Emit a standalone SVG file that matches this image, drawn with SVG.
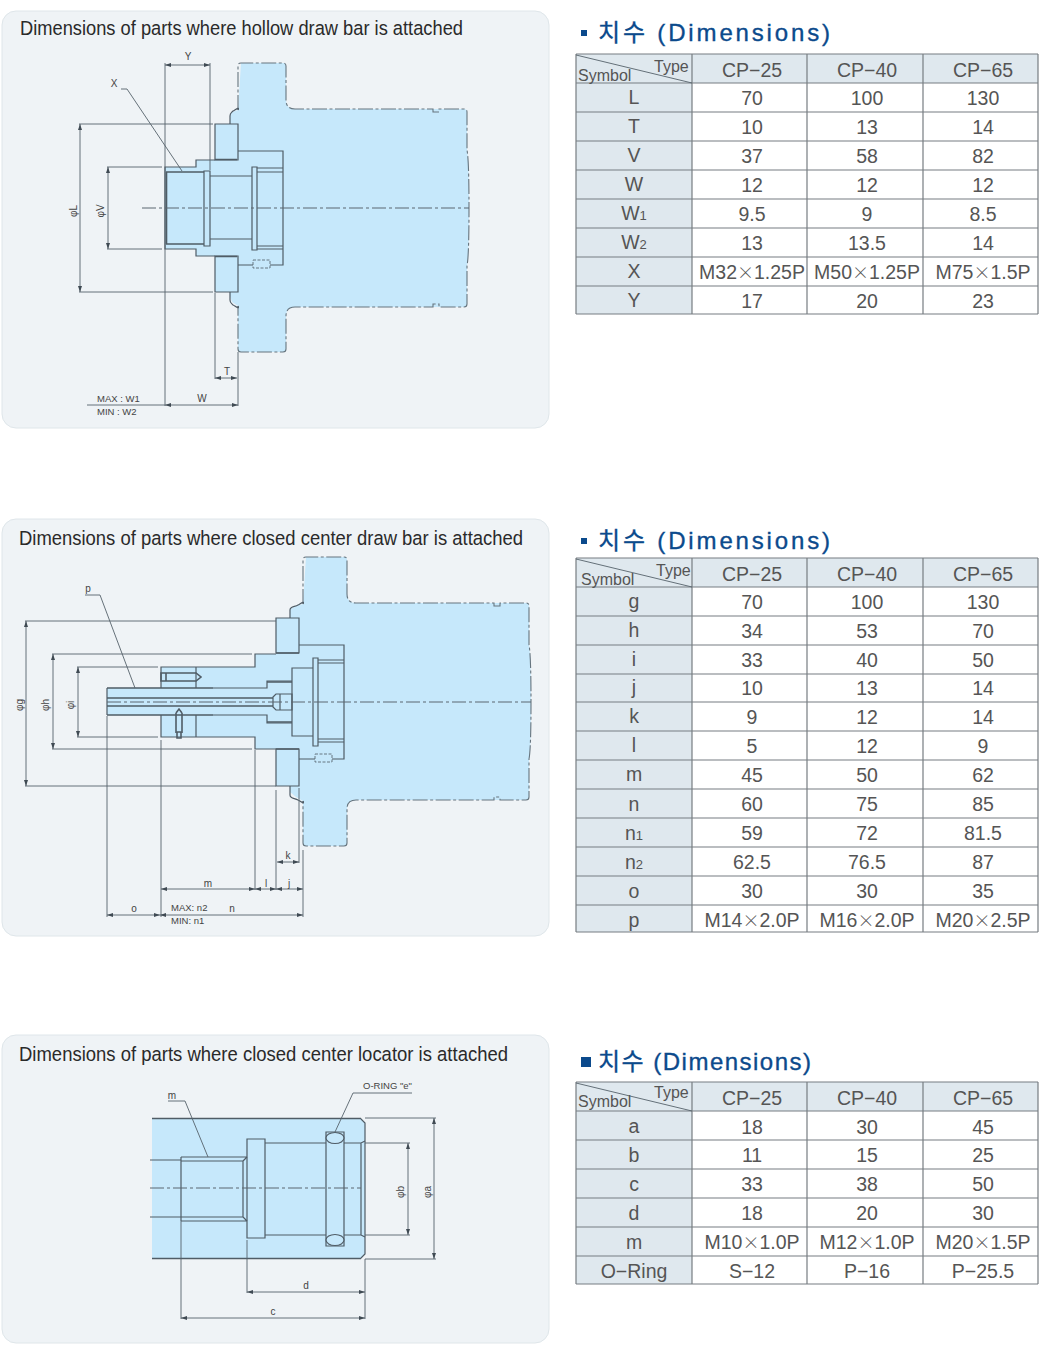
<svg xmlns="http://www.w3.org/2000/svg" width="1040" height="1357" viewBox="0 0 1040 1357">
<style>
text{font-family:"Liberation Sans",Arial,sans-serif;fill:#333}
.panel{fill:#eff3f6;stroke:#dfe6ea;stroke-width:1}
.ph{font-size:20.500px;fill:#2a2a2a}
.ttl{font-family:"Liberation Sans","Noto Sans CJK KR",sans-serif;font-size:24px;fill:#0b4a8c;stroke:#0b4a8c;stroke-width:.35}
.body{fill:#c6e8fb;stroke:none}
.cut{fill:none;stroke:#66757f;stroke-width:1.1;stroke-dasharray:15 2.5 3 2.5}
.solid{fill:none;stroke:#4f5c66;stroke-width:1.2}
.hv{fill:none;stroke:#4f5c66;stroke-width:1.6}
.thin{fill:none;stroke:#56626b;stroke-width:.9}
.dim{fill:none;stroke:#56626b;stroke-width:.9;marker-start:url(#ar);marker-end:url(#ar)}
.cl{fill:none;stroke:#5a6670;stroke-width:1;stroke-dasharray:14 3 3 3}
.dsh{fill:#c6e8fb;stroke:#4f5c66;stroke-width:.8;stroke-dasharray:3 1.5}
.lb{font-size:10px;fill:#444;text-anchor:middle}
.ls{font-size:9.500px;fill:#444}
.hf{fill:#dfe8ee;stroke:none}
.cf{fill:#fff;stroke:none}
.g{fill:none;stroke:#777d82;stroke-width:1.2}
.c{font-size:19.500px;text-anchor:middle;fill:#555}
.sb{font-size:13px}
.x{font-family:"Noto Sans CJK KR","Liberation Sans",sans-serif;font-size:17px;font-weight:300}
.hd{font-size:16px;fill:#555}
</style>
<defs>
<marker id="ar" viewBox="0 0 6 4" refX="6" refY="2" markerWidth="6" markerHeight="4" markerUnits="userSpaceOnUse" orient="auto-start-reverse"><path d="M0 0L6 2L0 4z" fill="#3f4a53"/></marker>
</defs>
<rect width="1040" height="1357" fill="#fff"/>

<g id="panel-1">
<rect class="panel" x="2" y="11" width="547" height="417" rx="14"/>
<text class="ph" x="20" y="35" textLength="443" lengthAdjust="spacingAndGlyphs">Dimensions of parts where hollow draw bar is attached</text>
</g>
<g id="drawing-1">
<path class="body" d="M241 63H283Q286 63 286 66V100Q286 109 295 109H464Q467 109 467 112V150Q469 160 469 208Q469 256 467 266V304Q467 307 464 307H295Q286 307 286 316V349Q286 352 283 352H241Q238 352 238 349V306L232 302L230 296V292H215V256H196V249H165V167H196V160H215V124H230V115L232 112L238 110Z"/>
<path class="cut" d="M238 110V66Q238 63 241 63H283Q286 63 286 66V100Q286 109 295 109H433V112H439V109H464Q467 109 467 112V150Q469 160 469 208Q469 256 467 266V304Q467 307 464 307H439V304H433V307H295Q286 307 286 316V349Q286 352 283 352H241Q238 352 238 349V306"/>
<path class="solid" d="M238 110C240 106 235 110 233 111C231 113 230 113 230 116V124M238 306C240 310 235 306 233 305C231 303 230 303 230 300V292"/>
<path class="solid" d="M215 124H238V160H215ZM215 256H238V292H215Z"/>
<path class="hv" d="M215 159.500H237M215 256.500H237"/>
<path class="solid" d="M238 151H283V265H238M215 160H196V167H165V249H196V256H215M204 171H210V246H204ZM252 167H257V250H252ZM210 176H252M210 239H252M257 168H283M257 172H283M257 246H283M257 249H283"/>
<path class="hv" d="M166.500 172V244M166 172H204M166 244H204"/>
<rect class="dsh" x="253" y="260" width="17" height="8"/>
<path class="cl" d="M142 208H469"/>
</g>
<g id="dimensions-1">
<path class="thin" d="M165 63V406M210 63V170M79 124H213M79 292H213M107 167H162M107 249H162M215 293V379M238 352V406M87 405H165M121 89H127L182 171"/>
<path class="dim" d="M165 65H210"/><path class="dim" d="M80 124V292"/><path class="dim" d="M108 167V249"/><path class="dim" d="M215 378H237"/><path class="dim" d="M165 405H238"/>
<text class="lb" x="188" y="60">Y</text>
<text class="lb" x="114" y="87">X</text>
<text class="lb" transform="translate(77 211) rotate(-90)">φL</text>
<text class="lb" transform="translate(104 211) rotate(-90)">φV</text>
<text class="lb" x="227" y="375">T</text>
<text class="lb" x="202" y="402">W</text>
<text class="ls" x="97" y="402">MAX : W1</text>
<text class="ls" x="97" y="415">MIN : W2</text>
</g>

<g id="table-1">
<rect x="581" y="30" width="6" height="6" fill="#0b4a8c"/>
<text class="ttl" x="598" y="41" textLength="232">치수 (Dimensions)</text>
<rect class="hf" x="576" y="54" width="462" height="29"/>
<rect class="hf" x="576" y="83" width="116" height="231"/>
<rect class="cf" x="692" y="83" width="346" height="231"/>
<path class="g" d="M576 54H1038M576 83H1038M576 112H1038M576 141H1038M576 170H1038M576 199H1038M576 228H1038M576 257H1038M576 286H1038M576 314H1038M576 54V314M692 54V314M807 54V314M923 54V314M1038 54V314"/>
<path class="thin" d="M576 55L692 83"/>
<text class="hd" x="654" y="72">Type</text>
<text class="hd" x="578" y="81">Symbol</text>
<text class="c" x="752" y="77">CP−25</text><text class="c" x="867" y="77">CP−40</text><text class="c" x="983" y="77">CP−65</text>
<text class="c" x="634" y="104">L</text><text class="c" x="752" y="105">70</text><text class="c" x="867" y="105">100</text><text class="c" x="983" y="105">130</text>
<text class="c" x="634" y="133">T</text><text class="c" x="752" y="134">10</text><text class="c" x="867" y="134">13</text><text class="c" x="983" y="134">14</text>
<text class="c" x="634" y="162">V</text><text class="c" x="752" y="163">37</text><text class="c" x="867" y="163">58</text><text class="c" x="983" y="163">82</text>
<text class="c" x="634" y="191">W</text><text class="c" x="752" y="192">12</text><text class="c" x="867" y="192">12</text><text class="c" x="983" y="192">12</text>
<text class="c" x="634" y="220">W<tspan class="sb">1</tspan></text><text class="c" x="752" y="221">9.5</text><text class="c" x="867" y="221">9</text><text class="c" x="983" y="221">8.5</text>
<text class="c" x="634" y="249">W<tspan class="sb">2</tspan></text><text class="c" x="752" y="250">13</text><text class="c" x="867" y="250">13.5</text><text class="c" x="983" y="250">14</text>
<text class="c" x="634" y="278">X</text><text class="c" x="752" y="279">M32<tspan class="x">×</tspan>1.25P</text><text class="c" x="867" y="279">M50<tspan class="x">×</tspan>1.25P</text><text class="c" x="983" y="279">M75<tspan class="x">×</tspan>1.5P</text>
<text class="c" x="634" y="307">Y</text><text class="c" x="752" y="308">17</text><text class="c" x="867" y="308">20</text><text class="c" x="983" y="308">23</text>
</g>

<g id="panel-2">
<rect class="panel" x="2" y="519" width="547" height="417" rx="14"/>
<text class="ph" x="19" y="545" textLength="504" lengthAdjust="spacingAndGlyphs">Dimensions of parts where closed center draw bar is attached</text>
</g>
<g id="drawing-2">
<path class="body" d="M306 557H344Q347 557 347 560V594Q347 603 356 603H526Q529 603 529 606V645Q531 655 531 702Q531 749 529 759V797Q529 800 526 800H356Q347 800 347 809V843Q347 846 344 846H306Q303 846 303 843V801L296 797L290 792V786H276V749H255V737H161V715H107V688H161V667H255V654H276V618H290V609L296 606L303 604Z"/>
<path class="cut" d="M303 604V560Q303 557 306 557H344Q347 557 347 560V594Q347 603 356 603H494V606H500V603H526Q529 603 529 606V645Q531 655 531 702Q531 749 529 759V797Q529 800 526 800H500V797H494V800H356Q347 800 347 809V843Q347 846 344 846H306Q303 846 303 843V801"/>
<path class="solid" d="M303 604C305 600 300 604 298 605C295 607 290 606 290 610V618M303 801C305 805 300 801 298 800C295 798 290 799 290 795V786"/>
<path class="solid" d="M276 618H299V653H276ZM276 749H299V786H276Z"/>
<path class="solid" d="M299 645H344V759H299M276 654H255V667H161V688M161 715V737H255V749H276M196 667V688M196 715V737M292 668H313V736H292ZM313 658H318V746H313ZM318 660H344M318 663H344M318 739H344M318 742H344M107 688V715M213 688H267V681H292M213 715H267V723H292"/>
<path class="hv" d="M107 688H213M107 715H213M107 698H273M107 706H273M267 682H292M267 722H292M299 653H276M299 749H276"/>
<path class="solid" d="M273 697L276 694H292V710H276L273 707ZM280 694V710"/>
<path class="hv" d="M161 673H196L201 677L196 681H161ZM166 673V681M176 713V733M182 713V733M176 713L179 709L182 713"/>
<path class="hv" d="M177 732H181V738H177Z"/>
<rect class="dsh" x="315" y="754" width="17" height="8"/>
<path class="cl" d="M107 702H531"/>
</g>
<g id="dimensions-2">
<path class="thin" d="M25 621H276M25 786H276M52 654H252M52 749H252M77 667H158M77 737H158M107 716V917M161 740V917M255 750V890M276 790V890M299 788V863M303 850V917M85 595H100L135 688"/>
<path class="dim" d="M26 621V786"/><path class="dim" d="M53 654V749"/><path class="dim" d="M78 667V737"/><path class="dim" d="M277 862H299"/><path class="dim" d="M161 889H255"/><path class="dim" d="M255 889H276"/><path class="dim" d="M276 889H303"/><path class="dim" d="M107 915H160"/><path class="dim" d="M160 915H303"/>
<text class="lb" x="88" y="592">p</text>
<text class="lb" transform="translate(23 705) rotate(-90)">φg</text>
<text class="lb" transform="translate(49 705) rotate(-90)">φh</text>
<text class="lb" transform="translate(74 705) rotate(-90)">φi</text>
<text class="lb" x="288" y="859">k</text>
<text class="lb" x="208" y="887">m</text>
<text class="lb" x="266" y="887">l</text>
<text class="lb" x="289" y="887">j</text>
<text class="lb" x="134" y="912">o</text>
<text class="ls" x="171" y="911">MAX: n2</text>
<text class="lb" x="232" y="912">n</text>
<text class="ls" x="171" y="924">MIN: n1</text>
</g>

<g id="table-2">
<rect x="581" y="538" width="6" height="6" fill="#0b4a8c"/>
<text class="ttl" x="598" y="549" textLength="232">치수 (Dimensions)</text>
<rect class="hf" x="576" y="558" width="462" height="29"/>
<rect class="hf" x="576" y="587" width="116" height="345"/>
<rect class="cf" x="692" y="587" width="346" height="345"/>
<path class="g" d="M576 558H1038M576 587H1038M576 616H1038M576 645H1038M576 674H1038M576 702H1038M576 731H1038M576 760H1038M576 789H1038M576 818H1038M576 847H1038M576 876H1038M576 905H1038M576 932H1038M576 558V932M692 558V932M807 558V932M923 558V932M1038 558V932"/>
<path class="thin" d="M576 559L692 587"/>
<text class="hd" x="656" y="576">Type</text>
<text class="hd" x="581" y="585">Symbol</text>
<text class="c" x="752" y="581">CP−25</text><text class="c" x="867" y="581">CP−40</text><text class="c" x="983" y="581">CP−65</text>
<text class="c" x="634" y="608">g</text><text class="c" x="752" y="609">70</text><text class="c" x="867" y="609">100</text><text class="c" x="983" y="609">130</text>
<text class="c" x="634" y="637">h</text><text class="c" x="752" y="638">34</text><text class="c" x="867" y="638">53</text><text class="c" x="983" y="638">70</text>
<text class="c" x="634" y="666">i</text><text class="c" x="752" y="667">33</text><text class="c" x="867" y="667">40</text><text class="c" x="983" y="667">50</text>
<text class="c" x="634" y="694">j</text><text class="c" x="752" y="695">10</text><text class="c" x="867" y="695">13</text><text class="c" x="983" y="695">14</text>
<text class="c" x="634" y="723">k</text><text class="c" x="752" y="724">9</text><text class="c" x="867" y="724">12</text><text class="c" x="983" y="724">14</text>
<text class="c" x="634" y="752">l</text><text class="c" x="752" y="753">5</text><text class="c" x="867" y="753">12</text><text class="c" x="983" y="753">9</text>
<text class="c" x="634" y="781">m</text><text class="c" x="752" y="782">45</text><text class="c" x="867" y="782">50</text><text class="c" x="983" y="782">62</text>
<text class="c" x="634" y="811">n</text><text class="c" x="752" y="811">60</text><text class="c" x="867" y="811">75</text><text class="c" x="983" y="811">85</text>
<text class="c" x="634" y="840">n<tspan class="sb">1</tspan></text><text class="c" x="752" y="840">59</text><text class="c" x="867" y="840">72</text><text class="c" x="983" y="840">81.5</text>
<text class="c" x="634" y="869">n<tspan class="sb">2</tspan></text><text class="c" x="752" y="869">62.5</text><text class="c" x="867" y="869">76.5</text><text class="c" x="983" y="869">87</text>
<text class="c" x="634" y="898">o</text><text class="c" x="752" y="898">30</text><text class="c" x="867" y="898">30</text><text class="c" x="983" y="898">35</text>
<text class="c" x="634" y="927">p</text><text class="c" x="752" y="927">M14<tspan class="x">×</tspan>2.0P</text><text class="c" x="867" y="927">M16<tspan class="x">×</tspan>2.0P</text><text class="c" x="983" y="927">M20<tspan class="x">×</tspan>2.5P</text>
</g>

<g id="panel-3">
<rect class="panel" x="2" y="1035" width="547" height="308" rx="14"/>
<text class="ph" x="19" y="1061" textLength="489" lengthAdjust="spacingAndGlyphs">Dimensions of parts where closed center locator is attached</text>
</g>
<g id="drawing-3">
<path class="body" d="M152 1118H360L365 1123V1254L360 1259H152Z"/>
<path class="hv" d="M152 1118.500H360M152 1258.500H360"/>
<path class="solid" d="M360 1118L365 1123V1254L360 1259M150 1160H181M150 1217H181M181 1157H247M181 1221H247M181 1157V1221M181 1161H243M181 1217H243M243 1161V1217L247 1221M243 1161L247 1157"/>
<path class="solid" d="M247 1139H265V1238H247ZM265 1143H326M344 1143H361L365 1141M265 1235H326M344 1235H361L365 1237M361 1143V1235M326 1132H344V1246H326Z"/>
<ellipse class="solid" cx="335" cy="1138" rx="9" ry="5.500" style="fill:#c6e8fb"/>
<ellipse class="solid" cx="335" cy="1240" rx="9" ry="5.500" style="fill:#c6e8fb"/>
<path class="cl" d="M150 1188H361"/>
</g>
<g id="dimensions-3">
<path class="thin" d="M365 1118H436M365 1259H436M365 1143H410M365 1235H410M181 1221V1319M247 1240V1293M365 1259V1319M168 1101H185L208 1157M412 1093H353L335 1132"/>
<path class="dim" d="M434 1118V1259"/><path class="dim" d="M408 1143V1235"/><path class="dim" d="M247 1292H365"/><path class="dim" d="M181 1318H365"/>
<text class="lb" x="172" y="1099">m</text>
<text class="ls" x="363" y="1089">O-RING "e"</text>
<text class="lb" transform="translate(404 1192) rotate(-90)">φb</text>
<text class="lb" transform="translate(431 1192) rotate(-90)">φa</text>
<text class="lb" x="306" y="1289">d</text>
<text class="lb" x="273" y="1315">c</text>
</g>

<g id="table-3">
<rect x="581" y="1057" width="10" height="10" fill="#0b4a8c"/>
<text class="ttl" x="598" y="1070" textLength="213">치수 (Dimensions)</text>
<rect class="hf" x="576" y="1082" width="462" height="29"/>
<rect class="hf" x="576" y="1111" width="116" height="173"/>
<rect class="cf" x="692" y="1111" width="346" height="173"/>
<path class="g" d="M576 1082H1038M576 1111H1038M576 1140H1038M576 1169H1038M576 1198H1038M576 1227H1038M576 1256H1038M576 1284H1038M576 1082V1284M692 1082V1284M807 1082V1284M923 1082V1284M1038 1082V1284"/>
<path class="thin" d="M576 1083L692 1111"/>
<text class="hd" x="654" y="1098">Type</text>
<text class="hd" x="578" y="1107">Symbol</text>
<text class="c" x="752" y="1105">CP−25</text><text class="c" x="867" y="1105">CP−40</text><text class="c" x="983" y="1105">CP−65</text>
<text class="c" x="634" y="1133">a</text><text class="c" x="752" y="1134">18</text><text class="c" x="867" y="1134">30</text><text class="c" x="983" y="1134">45</text>
<text class="c" x="634" y="1162">b</text><text class="c" x="752" y="1162">11</text><text class="c" x="867" y="1162">15</text><text class="c" x="983" y="1162">25</text>
<text class="c" x="634" y="1191">c</text><text class="c" x="752" y="1191">33</text><text class="c" x="867" y="1191">38</text><text class="c" x="983" y="1191">50</text>
<text class="c" x="634" y="1220">d</text><text class="c" x="752" y="1220">18</text><text class="c" x="867" y="1220">20</text><text class="c" x="983" y="1220">30</text>
<text class="c" x="634" y="1249">m</text><text class="c" x="752" y="1249">M10<tspan class="x">×</tspan>1.0P</text><text class="c" x="867" y="1249">M12<tspan class="x">×</tspan>1.0P</text><text class="c" x="983" y="1249">M20<tspan class="x">×</tspan>1.5P</text>
<text class="c" x="634" y="1278">O−Ring</text><text class="c" x="752" y="1278">S−12</text><text class="c" x="867" y="1278">P−16</text><text class="c" x="983" y="1278">P−25.5</text>
</g>
</svg>
